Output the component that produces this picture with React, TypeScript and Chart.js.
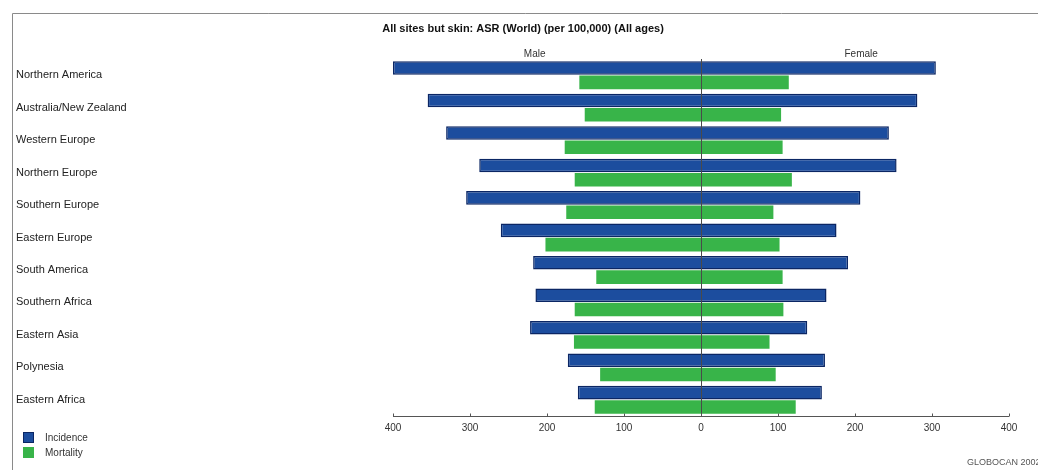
import React, { useEffect, useRef } from "react";
import { Chart, registerables } from "chart.js";

Chart.register(...registerables);

const categories = [
  "Northern America",
  "Australia/New Zealand",
  "Western Europe",
  "Northern Europe",
  "Southern Europe",
  "Eastern Europe",
  "South America",
  "Southern Africa",
  "Eastern Asia",
  "Polynesia",
  "Eastern Africa",
];

const maleIncidence = [400, 355, 331, 288, 305, 260, 218, 215, 222, 173, 160];
const femaleIncidence = [305, 281, 244, 254, 207, 176, 191, 163, 138, 161, 157];
const maleMortality = [158, 151, 177, 164, 175, 202, 136, 164, 165, 131, 138];
const femaleMortality = [114, 104, 106, 118, 94, 102, 106, 107, 89, 97, 123];

const xTicks = [-400, -300, -200, -100, 0, 100, 200, 300, 400];
const seriesNames = ["Incidence", "Mortality"];
const titleText = "All sites but skin: ASR (World) (per 100,000) (All ages)";
const sideLabels = ["Male", "Female"];
const footerText = "GLOBOCAN 2002";

const BLUE = "#1c4d9e";
const BLUE_BORDER = "#0b2664";
const GREEN = "#38b449";
const FONT = "'Liberation Sans', Arial, sans-serif";

const decor = {
  id: "decor",
  beforeDraw(chart: any) {
    const ctx = chart.ctx;
    ctx.save();
    ctx.fillStyle = "#ffffff";
    ctx.fillRect(0, 0, chart.width, chart.height);
    ctx.strokeStyle = "#8a8a8a";
    ctx.lineWidth = 1;
    ctx.beginPath();
    ctx.moveTo(12.5, chart.height);
    ctx.lineTo(12.5, 13.5);
    ctx.lineTo(chart.width, 13.5);
    ctx.stroke();
    ctx.restore();
  },
  afterDraw(chart: any) {
    const ctx = chart.ctx;
    const x = chart.scales.x;
    const area = chart.chartArea;
    ctx.save();
    // title
    ctx.fillStyle = "#111";
    ctx.font = `bold 11px ${FONT}`;
    ctx.textAlign = "center";
    ctx.textBaseline = "middle";
    ctx.fillText(titleText, 523, 29);
    // side labels
    ctx.font = `10px ${FONT}`;
    ctx.fillStyle = "#333";
    ctx.fillText(sideLabels[0], x.getPixelForValue(-216), 54);
    ctx.fillText(sideLabels[1], x.getPixelForValue(208), 54);
    // axis line and small upward tick marks
    ctx.strokeStyle = "#555";
    ctx.lineWidth = 1;
    const yAxis = Math.round(area.bottom) + 0.5;
    ctx.beginPath();
    ctx.moveTo(x.getPixelForValue(-400), yAxis);
    ctx.lineTo(x.getPixelForValue(400), yAxis);
    ctx.stroke();
    xTicks.forEach((v) => {
      const px = Math.round(x.getPixelForValue(v)) + 0.5;
      ctx.beginPath();
      ctx.moveTo(px, yAxis);
      ctx.lineTo(px, yAxis - 3);
      ctx.stroke();
    });
    // legend
    const colors = [BLUE, GREEN];
    const ys = [432, 447];
    seriesNames.forEach((name, i) => {
      ctx.fillStyle = colors[i];
      ctx.fillRect(23, ys[i], 11, 11);
      if (i === 0) {
        ctx.strokeStyle = BLUE_BORDER;
        ctx.strokeRect(23.5, ys[i] + 0.5, 10, 10);
      }
      ctx.fillStyle = "#333";
      ctx.font = `10px ${FONT}`;
      ctx.textAlign = "left";
      ctx.fillText(name, 45, ys[i] + 6);
    });
    // footer
    ctx.fillStyle = "#555";
    ctx.font = `9px ${FONT}`;
    ctx.textAlign = "left";
    ctx.fillText(footerText, 967, 463);
    ctx.restore();
  },
};

export default function App() {
  const ref = useRef<HTMLCanvasElement | null>(null);

  useEffect(() => {
    if (!ref.current) return;
    const chart = new Chart(ref.current, {
      type: "bar",
      data: {
        labels: categories,
        datasets: [
          {
            label: seriesNames[0],
            data: categories.map((_, i) => [-maleIncidence[i], femaleIncidence[i]]) as any,
            backgroundColor: BLUE,
            borderColor: BLUE_BORDER,
            borderWidth: 1.5,
            borderSkipped: false,
            categoryPercentage: 0.88,
            barPercentage: 0.95,
          },
          {
            label: seriesNames[1],
            data: categories.map((_, i) => [-maleMortality[i], femaleMortality[i]]) as any,
            backgroundColor: GREEN,
            borderWidth: 0,
            categoryPercentage: 0.88,
            barPercentage: 0.95,
          },
        ],
      },
      options: {
        indexAxis: "y",
        responsive: false,
        animation: false,
        layout: { padding: { left: 16, top: 59, right: 29, bottom: 0 } },
        plugins: {
          legend: { display: false },
          title: { display: false },
          tooltip: { enabled: false },
        },
        scales: {
          x: {
            type: "linear",
            min: -400,
            max: 400,
            afterBuildTicks: (scale: any) => {
              scale.ticks = xTicks.map((v) => ({ value: v }));
            },
            afterFit: (scale: any) => {
              scale.height = 54;
            },
            ticks: {
              padding: 6,
              color: "#333",
              font: { size: 10, family: FONT },
              callback: (v: any) => String(Math.abs(Number(v))),
              maxRotation: 0,
            },
            grid: {
              z: 1,
              drawTicks: false,
              color: (c: any) => (c.tick && c.tick.value === 0 ? "#4a4a4a" : "rgba(0,0,0,0)"),
              lineWidth: 1,
            },
            border: { display: false },
          },
          y: {
            afterFit: (scale: any) => {
              scale.width = 377;
            },
            ticks: {
              crossAlign: "far",
              color: "#222",
              font: { size: 11, family: FONT },
              padding: 0,
            },
            grid: { display: false, drawTicks: false },
            border: { display: false },
          },
        },
      },
      plugins: [decor],
    });
    return () => chart.destroy();
  }, []);

  return (
    <div style={{ position: "fixed", left: 0, top: 0, width: 1038, height: 470, background: "#fff" }}>
      <canvas ref={ref} width={1038} height={470} style={{ display: "block" }} />
    </div>
  );
}
